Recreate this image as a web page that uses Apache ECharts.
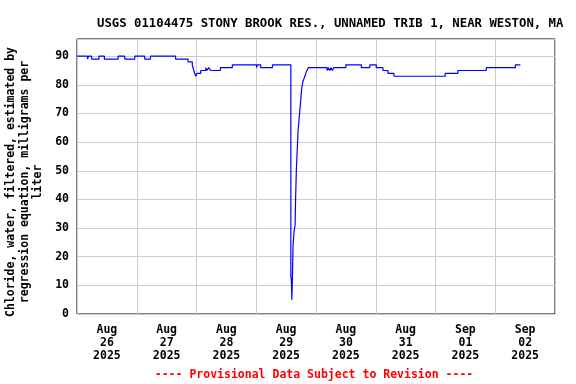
<!DOCTYPE html>
<html>
<head>
<meta charset="utf-8">
<script src="https://cdn.jsdelivr.net/npm/echarts@6/dist/echarts.min.js"></script>
<style>html,body{margin:0;padding:0;background:#fff}#c{width:576px;height:384px}</style>
</head>
<body>
<div id="c"></div>
<script>
// Hours since 2025-08-26 00:00 (local) at which the value changes
var hours = [0, 4.2, 4.7, 5.9, 8.8, 11.0, 16.5, 19.2, 23.2, 27.2, 29.5, 39.6, 44.6, 46.3, 46.9, 47.7, 48.2, 49.7,
  51.7, 52.2, 52.9, 53.7, 57.6, 62.4, 72.1, 72.5, 73.8, 78.5, 85.9, 86.1, 86.3, 86.5, 86.8, 87.2, 87.4, 87.6,
  87.8, 88.1, 88.4, 88.8, 89.2, 89.5, 89.9, 90.3, 90.7, 91.1, 91.5, 91.9, 92.3, 93.0, 100.4, 101.0, 101.5,
  102.0, 102.6, 103.1, 108.0, 114.2, 117.6, 120.2, 122.9, 124.9, 127.3, 147.9, 153.0, 164.4, 176.1, 178.1];
var chloride = [90, 89, 90, 89, 90, 89, 90, 89, 90, 89, 90, 89, 88, 87, 85, 83, 84, 85,
  86, 85, 86, 85, 86, 87, 86, 87, 86, 87, 13, 12, 5, 12, 24, 29, 30, 31,
  40, 50, 56, 64, 68, 71, 75, 79, 81, 82, 83, 84, 85, 86, 85, 86, 85,
  86, 85, 86, 87, 86, 87, 86, 85, 84, 83, 84, 85, 86, 87, 87];
var dayLabels = ['Aug\n26\n2025', 'Aug\n27\n2025', 'Aug\n28\n2025', 'Aug\n29\n2025',
  'Aug\n30\n2025', 'Aug\n31\n2025', 'Sep\n01\n2025', 'Sep\n02\n2025'];
var titleText = 'USGS 01104475 STONY BROOK RES., UNNAMED TRIB 1, NEAR WESTON, MA';
var yName = 'Chloride, water, filtered, estimated by\nregression equation, milligrams per\nliter';
var footer = '---- Provisional Data Subject to Revision ----';

var FONT = 'DejaVu Sans Mono';
var data = hours.map(function (h, i) { return [h, chloride[i]]; });

var chart = echarts.init(document.getElementById('c'), null, { renderer: 'canvas' });
chart.setOption({
  animation: false,
  backgroundColor: '#fff',
  title: {
    text: titleText, left: 92, top: 13,
    textStyle: { fontFamily: FONT, fontWeight: 'bold', fontSize: 12.3, color: '#000' }
  },
  grid: {
    left: 77, right: 21, top: 39, bottom: 70, show: true, borderColor: '#000', borderWidth: 1,
    backgroundColor: 'transparent', containLabel: false, outerBoundsMode: 'none'
  },
  xAxis: [{
    type: 'value', min: 0, max: 192, interval: 24, position: 'bottom',
    axisLine: { show: false }, axisTick: { show: false }, axisLabel: { show: false },
    splitLine: { show: true, lineStyle: { color: '#cccccc', width: 1 } }
  }, {
    type: 'value', min: 0, max: 192, interval: 12, position: 'bottom',
    axisLine: { show: false }, axisTick: { show: false }, splitLine: { show: false },
    axisLabel: {
      show: true, margin: 10, lineHeight: 13,
      fontFamily: FONT, fontWeight: 'bold', fontSize: 11.5, color: '#000',
      formatter: function (v) { return (v % 24 === 12) ? dayLabels[(v - 12) / 24] : ''; }
    }
  }],
  yAxis: {
    type: 'value', min: 0, max: 96, interval: 10,
    axisLine: { show: false }, axisTick: { show: false },
    axisLabel: {
      margin: 8, fontFamily: FONT, fontWeight: 'bold', fontSize: 11.5, color: '#000',
      formatter: function (v) { return (v % 10 === 0) ? String(v) : ''; }
    },
    splitLine: { show: true, lineStyle: { color: '#cccccc', width: 1 } }
  },
  graphic: [{
    type: 'text', x: 25, y: 182, rotation: Math.PI / 2,
    style: {
      text: yName, fill: '#000', font: 'bold 11.5px "DejaVu Sans Mono"', lineHeight: 13.5,
      align: 'center', verticalAlign: 'middle'
    }
  }, {
    type: 'text', x: 314, y: 375,
    style: {
      text: footer, fill: '#ff0000', font: 'bold 11.5px "DejaVu Sans Mono"',
      align: 'center', verticalAlign: 'middle'
    }
  }],
  series: [{
    type: 'line', xAxisIndex: 0, data: data, step: 'end', showSymbol: false,
    lineStyle: { color: '#0000ff', width: 1.2 }, itemStyle: { color: '#0000ff' }
  }]
});
</script>
</body>
</html>
